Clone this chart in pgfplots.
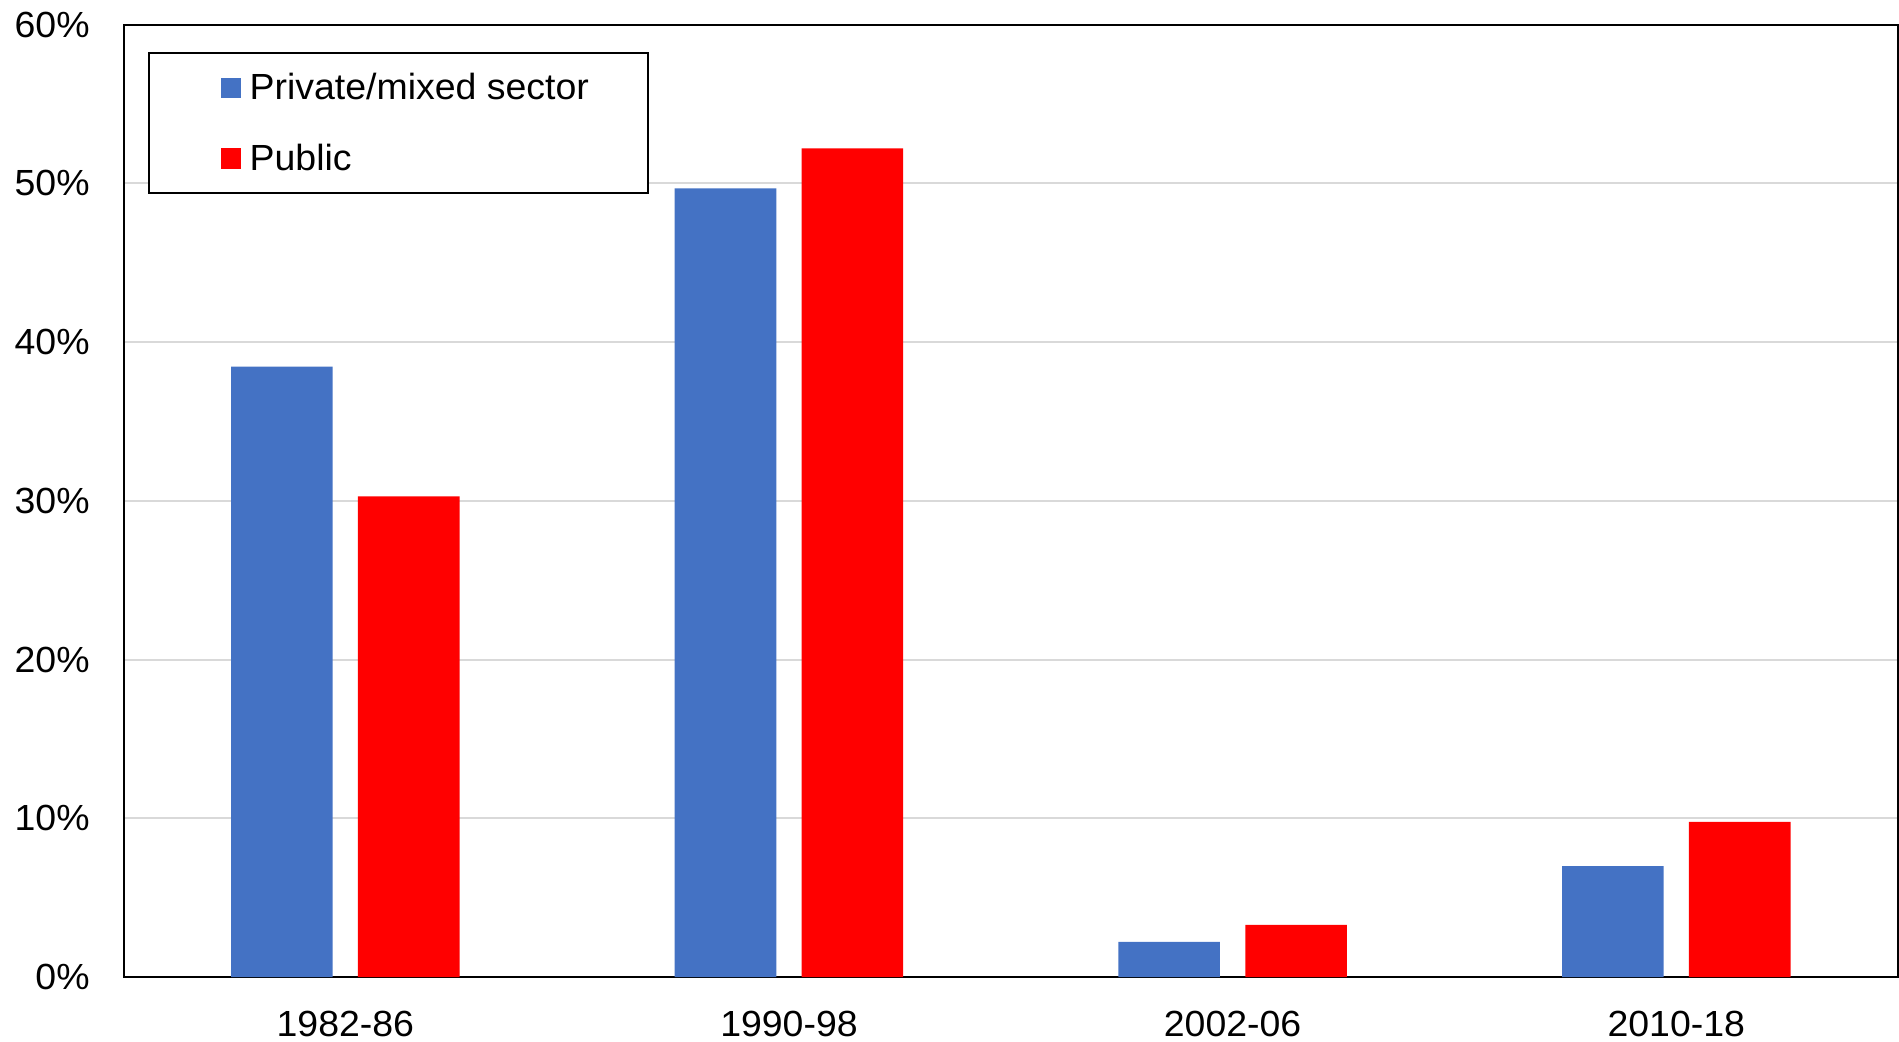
\documentclass[border=0pt,12pt]{standalone}
\usepackage{fontspec}
\setmainfont{Liberation Sans}[FakeStretch=1.03]
\usepackage{pgfplots}
\pgfplotsset{compat=1.18}
\definecolor{cblue}{HTML}{4472C4}
\definecolor{cred}{HTML}{FF0000}
\definecolor{cgrid}{HTML}{D9D9D9}
\begin{document}
\begin{tikzpicture}
\path[use as bounding box] (-40.76pt,-21.12pt) rectangle (585.9pt,322.41pt);
\begin{axis}[
  at={(0pt,0pt)}, anchor=south west,
  scale only axis, width=585.6pt, height=314.3pt,
  ybar=8.35pt, bar width=0.229,
  xmin=-0.5, xmax=3.5, ymin=0, ymax=60,
  xtick={0,1,2,3}, xticklabels={1982-86,1990-98,2002-06,2010-18},
  ytick={0,10,20,30,40,50,60}, yticklabels={0\%,10\%,20\%,30\%,40\%,50\%,60\%},
  major tick length=0pt,
  ymajorgrids, grid style={cgrid, line width=0.66pt},
  axis line style={black, line width=0.66pt},
  yticklabel style={xshift=-7pt},
  xticklabel style={yshift=-7pt},
  legend cell align=left,
  legend style={at={(0.01364,0.9708)}, anchor=north west, draw=black, fill=white, line width=0.66pt,
    inner xsep=19.6pt, inner ysep=6.7pt, row sep=13.8pt, column sep=2.8pt,
    nodes={inner sep=0pt, text height=8.6pt, text depth=0.8pt}},
  legend image code/.code={\fill[white] (0pt,-0.05pt) rectangle (0.1pt,0.05pt);\fill[#1] (4.2pt,-3.4pt) rectangle (10.9pt,3.3pt);},
]
\addplot[fill=cblue, draw=none] coordinates {(0,38.45) (1,49.68) (2,2.22) (3,6.99)};
\addplot[fill=cred, draw=none] coordinates {(0,30.28) (1,52.20) (2,3.28) (3,9.78)};
\legend{Private/mixed sector, Public}
\end{axis}
\end{tikzpicture}
\end{document}
